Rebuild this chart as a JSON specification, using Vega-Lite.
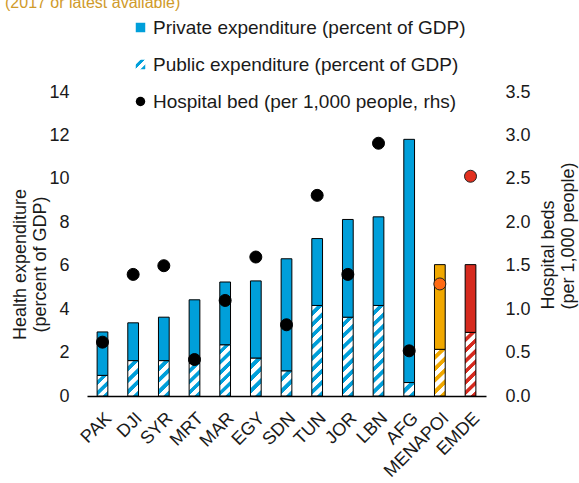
{
  "$schema": "https://vega.github.io/schema/vega-lite/v6.json",
  "width": 399,
  "height": 304,
  "autosize": "none",
  "padding": {"left": 87, "top": 92, "right": 93, "bottom": 87},
  "title": {"text": "(2017 or latest available)", "anchor": "start", "frame": "group", "fontSize": 16, "color": "#D09A2A", "fontWeight": "normal", "font": "Liberation Sans", "offset": 0, "dx": -82, "dy": 6, "baseline": "alphabetic"},
  "config": {
    "view": {"stroke": null},
    "font": "Liberation Sans",
    "axis": {"labelFont": "Liberation Sans", "titleFont": "Liberation Sans", "labelColor": "#1a1a1a", "titleColor": "#1a1a1a", "labelFontSize": 18, "titleFontSize": 18, "titleFontWeight": "normal", "grid": false}
  },
  "data": {"values": [
    {"country": "PAK", "public": 0.95, "private": 2.00, "beds": 0.62},
    {"country": "DJI", "public": 1.63, "private": 1.74, "beds": 1.40},
    {"country": "SYR", "public": 1.63, "private": 2.00, "beds": 1.50},
    {"country": "MRT", "public": 1.50, "private": 2.93, "beds": 0.42},
    {"country": "MAR", "public": 2.36, "private": 2.89, "beds": 1.10},
    {"country": "EGY", "public": 1.75, "private": 3.55, "beds": 1.60},
    {"country": "SDN", "public": 1.16, "private": 5.16, "beds": 0.82},
    {"country": "TUN", "public": 4.17, "private": 3.08, "beds": 2.31},
    {"country": "JOR", "public": 3.63, "private": 4.50, "beds": 1.40},
    {"country": "LBN", "public": 4.17, "private": 4.08, "beds": 2.91},
    {"country": "AFG", "public": 0.62, "private": 11.20, "beds": 0.52},
    {"country": "MENAPOI", "public": 2.15, "private": 3.90, "beds": 1.29},
    {"country": "EMDE", "public": 2.93, "private": 3.12, "beds": 2.53}
  ]},
  "layer": [
    {
      "transform": [{"fold": ["public", "private"], "as": ["type", "value"]}],
      "mark": {"type": "bar", "stroke": "#000", "strokeWidth": 1},
      "encoding": {
        "x": {"field": "country", "type": "nominal", "sort": null, "scale": {"paddingInner": 0.65, "paddingOuter": 0.33},
              "axis": {"title": null, "labelAngle": -45, "labelFontSize": 18, "ticks": false, "domainColor": "#000", "domainWidth": 1.5, "labelPadding": 13}},
        "y": {"field": "value", "type": "quantitative", "stack": "zero", "scale": {"domain": [0, 14]},
              "axis": {"values": [0, 2, 4, 6, 8, 10, 12, 14], "title": ["Health expenditure", "(percent of GDP)"], "domain": false, "ticks": false, "grid": false, "labelPadding": 18, "titleX": -58, "titleY": 172, "titleAngle": 270, "titleBaseline": "bottom", "titleAlign": "center", "titleLineHeight": 20}},
        "order": {"field": "type", "sort": "descending"},
        "fill": {
          "condition": [
            {"test": "datum.type==='private'&&datum.country==='MENAPOI'", "value": "#F0A800"},
            {"test": "datum.type==='private'&&datum.country==='EMDE'", "value": "#D62A1E"},
            {"test": "datum.type==='private'", "value": "#009FDA"},
            {"test": "datum.country==='PAK'", "value": {"gradient": "linear", "x1": 0, "y1": 0, "x2": 0.611, "y2": 1.199, "stops": [{"offset": 0, "color": "#fff"}, {"offset": 0.15, "color": "#fff"}, {"offset": 0.183, "color": "#009FDA"}, {"offset": 0.317, "color": "#009FDA"}, {"offset": 0.333, "color": "#fff"}, {"offset": 0.483, "color": "#fff"}, {"offset": 0.517, "color": "#009FDA"}, {"offset": 0.65, "color": "#009FDA"}, {"offset": 0.667, "color": "#fff"}, {"offset": 0.817, "color": "#fff"}, {"offset": 0.85, "color": "#009FDA"}, {"offset": 0.983, "color": "#009FDA"}, {"offset": 1, "color": "#fff"}]}},
            {"test": "datum.country==='SDN'", "value": {"gradient": "linear", "x1": 0, "y1": 0, "x2": 0.503, "y2": 1.207, "stops": [{"offset": 0, "color": "#fff"}, {"offset": 0.15, "color": "#fff"}, {"offset": 0.183, "color": "#009FDA"}, {"offset": 0.317, "color": "#009FDA"}, {"offset": 0.333, "color": "#fff"}, {"offset": 0.483, "color": "#fff"}, {"offset": 0.517, "color": "#009FDA"}, {"offset": 0.65, "color": "#009FDA"}, {"offset": 0.667, "color": "#fff"}, {"offset": 0.817, "color": "#fff"}, {"offset": 0.85, "color": "#009FDA"}, {"offset": 0.983, "color": "#009FDA"}, {"offset": 1, "color": "#fff"}]}},
            {"test": "datum.country==='DJI'||datum.country==='SYR'", "value": {"gradient": "linear", "x1": 0, "y1": 0, "x2": 0.354, "y2": 1.192, "stops": [{"offset": 0, "color": "#fff"}, {"offset": 0.1125, "color": "#fff"}, {"offset": 0.1375, "color": "#009FDA"}, {"offset": 0.2375, "color": "#009FDA"}, {"offset": 0.25, "color": "#fff"}, {"offset": 0.3625, "color": "#fff"}, {"offset": 0.3875, "color": "#009FDA"}, {"offset": 0.4875, "color": "#009FDA"}, {"offset": 0.5, "color": "#fff"}, {"offset": 0.6125, "color": "#fff"}, {"offset": 0.6375, "color": "#009FDA"}, {"offset": 0.7375, "color": "#009FDA"}, {"offset": 0.75, "color": "#fff"}, {"offset": 0.8625, "color": "#fff"}, {"offset": 0.8875, "color": "#009FDA"}, {"offset": 0.9875, "color": "#009FDA"}, {"offset": 1, "color": "#fff"}]}},
            {"test": "datum.country==='MRT'", "value": {"gradient": "linear", "x1": 0, "y1": 0, "x2": 0.386, "y2": 1.198, "stops": [{"offset": 0, "color": "#fff"}, {"offset": 0.1125, "color": "#fff"}, {"offset": 0.1375, "color": "#009FDA"}, {"offset": 0.2375, "color": "#009FDA"}, {"offset": 0.25, "color": "#fff"}, {"offset": 0.3625, "color": "#fff"}, {"offset": 0.3875, "color": "#009FDA"}, {"offset": 0.4875, "color": "#009FDA"}, {"offset": 0.5, "color": "#fff"}, {"offset": 0.6125, "color": "#fff"}, {"offset": 0.6375, "color": "#009FDA"}, {"offset": 0.7375, "color": "#009FDA"}, {"offset": 0.75, "color": "#fff"}, {"offset": 0.8625, "color": "#fff"}, {"offset": 0.8875, "color": "#009FDA"}, {"offset": 0.9875, "color": "#009FDA"}, {"offset": 1, "color": "#fff"}]}},
            {"test": "datum.country==='EGY'", "value": {"gradient": "linear", "x1": 0, "y1": 0, "x2": 0.328, "y2": 1.186, "stops": [{"offset": 0, "color": "#fff"}, {"offset": 0.1125, "color": "#fff"}, {"offset": 0.1375, "color": "#009FDA"}, {"offset": 0.2375, "color": "#009FDA"}, {"offset": 0.25, "color": "#fff"}, {"offset": 0.3625, "color": "#fff"}, {"offset": 0.3875, "color": "#009FDA"}, {"offset": 0.4875, "color": "#009FDA"}, {"offset": 0.5, "color": "#fff"}, {"offset": 0.6125, "color": "#fff"}, {"offset": 0.6375, "color": "#009FDA"}, {"offset": 0.7375, "color": "#009FDA"}, {"offset": 0.75, "color": "#fff"}, {"offset": 0.8625, "color": "#fff"}, {"offset": 0.8875, "color": "#009FDA"}, {"offset": 0.9875, "color": "#009FDA"}, {"offset": 1, "color": "#fff"}]}},
            {"test": "datum.country==='MAR'", "value": {"gradient": "linear", "x1": 0, "y1": 0, "x2": 0.237, "y2": 1.157, "stops": [{"offset": 0, "color": "#fff"}, {"offset": 0.075, "color": "#fff"}, {"offset": 0.092, "color": "#009FDA"}, {"offset": 0.158, "color": "#009FDA"}, {"offset": 0.167, "color": "#fff"}, {"offset": 0.242, "color": "#fff"}, {"offset": 0.258, "color": "#009FDA"}, {"offset": 0.325, "color": "#009FDA"}, {"offset": 0.333, "color": "#fff"}, {"offset": 0.408, "color": "#fff"}, {"offset": 0.425, "color": "#009FDA"}, {"offset": 0.492, "color": "#009FDA"}, {"offset": 0.5, "color": "#fff"}, {"offset": 0.575, "color": "#fff"}, {"offset": 0.592, "color": "#009FDA"}, {"offset": 0.658, "color": "#009FDA"}, {"offset": 0.667, "color": "#fff"}, {"offset": 0.742, "color": "#fff"}, {"offset": 0.758, "color": "#009FDA"}, {"offset": 0.825, "color": "#009FDA"}, {"offset": 0.833, "color": "#fff"}, {"offset": 0.908, "color": "#fff"}, {"offset": 0.925, "color": "#009FDA"}, {"offset": 0.992, "color": "#009FDA"}, {"offset": 1, "color": "#fff"}]}},
            {"test": "datum.country==='TUN'||datum.country==='LBN'", "value": {"gradient": "linear", "x1": 0, "y1": 0, "x2": 0.128, "y2": 1.101, "stops": [{"offset": 0, "color": "#fff"}, {"offset": 0.05, "color": "#fff"}, {"offset": 0.061, "color": "#009FDA"}, {"offset": 0.106, "color": "#009FDA"}, {"offset": 0.111, "color": "#fff"}, {"offset": 0.161, "color": "#fff"}, {"offset": 0.172, "color": "#009FDA"}, {"offset": 0.217, "color": "#009FDA"}, {"offset": 0.222, "color": "#fff"}, {"offset": 0.272, "color": "#fff"}, {"offset": 0.283, "color": "#009FDA"}, {"offset": 0.328, "color": "#009FDA"}, {"offset": 0.333, "color": "#fff"}, {"offset": 0.383, "color": "#fff"}, {"offset": 0.394, "color": "#009FDA"}, {"offset": 0.439, "color": "#009FDA"}, {"offset": 0.444, "color": "#fff"}, {"offset": 0.494, "color": "#fff"}, {"offset": 0.506, "color": "#009FDA"}, {"offset": 0.55, "color": "#009FDA"}, {"offset": 0.556, "color": "#fff"}, {"offset": 0.606, "color": "#fff"}, {"offset": 0.617, "color": "#009FDA"}, {"offset": 0.661, "color": "#009FDA"}, {"offset": 0.667, "color": "#fff"}, {"offset": 0.717, "color": "#fff"}, {"offset": 0.728, "color": "#009FDA"}, {"offset": 0.772, "color": "#009FDA"}, {"offset": 0.778, "color": "#fff"}, {"offset": 0.828, "color": "#fff"}, {"offset": 0.839, "color": "#009FDA"}, {"offset": 0.883, "color": "#009FDA"}, {"offset": 0.889, "color": "#fff"}, {"offset": 0.939, "color": "#fff"}, {"offset": 0.95, "color": "#009FDA"}, {"offset": 0.994, "color": "#009FDA"}, {"offset": 1, "color": "#fff"}]}},
            {"test": "datum.country==='JOR'", "value": {"gradient": "linear", "x1": 0, "y1": 0, "x2": 0.148, "y2": 1.114, "stops": [{"offset": 0, "color": "#fff"}, {"offset": 0.056, "color": "#fff"}, {"offset": 0.069, "color": "#009FDA"}, {"offset": 0.119, "color": "#009FDA"}, {"offset": 0.125, "color": "#fff"}, {"offset": 0.181, "color": "#fff"}, {"offset": 0.194, "color": "#009FDA"}, {"offset": 0.244, "color": "#009FDA"}, {"offset": 0.25, "color": "#fff"}, {"offset": 0.306, "color": "#fff"}, {"offset": 0.319, "color": "#009FDA"}, {"offset": 0.369, "color": "#009FDA"}, {"offset": 0.375, "color": "#fff"}, {"offset": 0.431, "color": "#fff"}, {"offset": 0.444, "color": "#009FDA"}, {"offset": 0.494, "color": "#009FDA"}, {"offset": 0.5, "color": "#fff"}, {"offset": 0.556, "color": "#fff"}, {"offset": 0.569, "color": "#009FDA"}, {"offset": 0.619, "color": "#009FDA"}, {"offset": 0.625, "color": "#fff"}, {"offset": 0.681, "color": "#fff"}, {"offset": 0.694, "color": "#009FDA"}, {"offset": 0.744, "color": "#009FDA"}, {"offset": 0.75, "color": "#fff"}, {"offset": 0.806, "color": "#fff"}, {"offset": 0.819, "color": "#009FDA"}, {"offset": 0.869, "color": "#009FDA"}, {"offset": 0.875, "color": "#fff"}, {"offset": 0.931, "color": "#fff"}, {"offset": 0.944, "color": "#009FDA"}, {"offset": 0.994, "color": "#009FDA"}, {"offset": 1, "color": "#fff"}]}},
            {"test": "datum.country==='AFG'", "value": {"gradient": "linear", "x1": 0, "y1": 0, "x2": 0.862, "y2": 1.108, "stops": [{"offset": 0, "color": "#fff"}, {"offset": 0.225, "color": "#fff"}, {"offset": 0.275, "color": "#009FDA"}, {"offset": 0.475, "color": "#009FDA"}, {"offset": 0.5, "color": "#fff"}, {"offset": 0.725, "color": "#fff"}, {"offset": 0.775, "color": "#009FDA"}, {"offset": 0.975, "color": "#009FDA"}, {"offset": 1, "color": "#fff"}]}},
            {"test": "datum.country==='MENAPOI'", "value": {"gradient": "linear", "x1": 0, "y1": 0, "x2": 0.262, "y2": 1.166, "stops": [{"offset": 0, "color": "#fff"}, {"offset": 0.09, "color": "#fff"}, {"offset": 0.11, "color": "#F0A800"}, {"offset": 0.19, "color": "#F0A800"}, {"offset": 0.2, "color": "#fff"}, {"offset": 0.29, "color": "#fff"}, {"offset": 0.31, "color": "#F0A800"}, {"offset": 0.39, "color": "#F0A800"}, {"offset": 0.4, "color": "#fff"}, {"offset": 0.49, "color": "#fff"}, {"offset": 0.51, "color": "#F0A800"}, {"offset": 0.59, "color": "#F0A800"}, {"offset": 0.6, "color": "#fff"}, {"offset": 0.69, "color": "#fff"}, {"offset": 0.71, "color": "#F0A800"}, {"offset": 0.79, "color": "#F0A800"}, {"offset": 0.8, "color": "#fff"}, {"offset": 0.89, "color": "#fff"}, {"offset": 0.91, "color": "#F0A800"}, {"offset": 0.99, "color": "#F0A800"}, {"offset": 1, "color": "#fff"}]}},
            {"test": "datum.country==='EMDE'", "value": {"gradient": "linear", "x1": 0, "y1": 0, "x2": 0.187, "y2": 1.134, "stops": [{"offset": 0, "color": "#fff"}, {"offset": 0.064, "color": "#fff"}, {"offset": 0.079, "color": "#D62A1E"}, {"offset": 0.136, "color": "#D62A1E"}, {"offset": 0.143, "color": "#fff"}, {"offset": 0.207, "color": "#fff"}, {"offset": 0.221, "color": "#D62A1E"}, {"offset": 0.279, "color": "#D62A1E"}, {"offset": 0.286, "color": "#fff"}, {"offset": 0.35, "color": "#fff"}, {"offset": 0.364, "color": "#D62A1E"}, {"offset": 0.421, "color": "#D62A1E"}, {"offset": 0.429, "color": "#fff"}, {"offset": 0.493, "color": "#fff"}, {"offset": 0.507, "color": "#D62A1E"}, {"offset": 0.564, "color": "#D62A1E"}, {"offset": 0.571, "color": "#fff"}, {"offset": 0.636, "color": "#fff"}, {"offset": 0.65, "color": "#D62A1E"}, {"offset": 0.707, "color": "#D62A1E"}, {"offset": 0.714, "color": "#fff"}, {"offset": 0.779, "color": "#fff"}, {"offset": 0.793, "color": "#D62A1E"}, {"offset": 0.85, "color": "#D62A1E"}, {"offset": 0.857, "color": "#fff"}, {"offset": 0.921, "color": "#fff"}, {"offset": 0.936, "color": "#D62A1E"}, {"offset": 0.993, "color": "#D62A1E"}, {"offset": 1, "color": "#fff"}]}}
          ],
          "value": "#009FDA"
        }
      }
    },
    {
      "layer": [
        {
          "transform": [{"filter": "datum.country !== 'MENAPOI' && datum.country !== 'EMDE'"}],
          "mark": {"type": "point", "filled": true, "size": 144, "opacity": 1, "stroke": "#000", "strokeWidth": 1},
          "encoding": {
            "x": {"field": "country", "type": "nominal", "sort": null},
            "y": {"field": "beds", "type": "quantitative", "scale": {"domain": [0, 3.5]},
                  "axis": {"orient": "right", "values": [0, 0.5, 1, 1.5, 2, 2.5, 3, 3.5], "format": ".1f", "title": ["Hospital beds", "(per 1,000 people)"], "domain": false, "ticks": false, "grid": false, "labelPadding": 19, "titleX": 53, "titleY": 217, "titleAngle": 270, "titleBaseline": "top", "titleAlign": "left", "titleLineHeight": 20}},
            "fill": {"datum": "Hospital bed (per 1,000 people, rhs)", "type": "nominal",
                     "scale": {"domain": ["Private expenditure (percent of GDP)", "Public expenditure (percent of GDP)", "Hospital bed (per 1,000 people, rhs)"],
                               "range": ["#009FDA", {"expr": "{gradient: 'linear', x1: 0, y1: 0, x2: 1, y2: 1, stops: [{offset: 0, color: '#fff'}, {offset: 0.225, color: '#fff'}, {offset: 0.275, color: '#009FDA'}, {offset: 0.475, color: '#009FDA'}, {offset: 0.5, color: '#fff'}, {offset: 0.725, color: '#fff'}, {offset: 0.775, color: '#009FDA'}, {offset: 0.975, color: '#009FDA'}, {offset: 1, color: '#fff'}]}"}, "#000"]},
                     "legend": {"title": null, "orient": "none", "legendX": 44, "legendY": -74, "direction": "vertical", "labelFontSize": 19, "labelColor": "#1a1a1a", "labelFont": "Liberation Sans", "symbolSize": 90, "rowPadding": 17, "labelOffset": 3, "labelLimit": 0, "symbolOpacity": 1, "symbolStrokeColor": "#000", "symbolStrokeWidth": 1}},
            "shape": {"datum": "Hospital bed (per 1,000 people, rhs)", "type": "nominal",
                      "scale": {"domain": ["Private expenditure (percent of GDP)", "Public expenditure (percent of GDP)", "Hospital bed (per 1,000 people, rhs)"], "range": ["square", "square", "circle"]},
                      "legend": {"title": null, "orient": "none", "legendX": 44, "legendY": -74, "direction": "vertical", "labelFontSize": 19, "labelColor": "#1a1a1a", "labelFont": "Liberation Sans", "symbolSize": 90, "rowPadding": 17, "labelOffset": 3, "labelLimit": 0, "symbolOpacity": 1, "symbolStrokeColor": "#000", "symbolStrokeWidth": 1}}
          }
        },
        {
          "transform": [{"filter": "datum.country === 'MENAPOI' || datum.country === 'EMDE'"}],
          "mark": {"type": "point", "filled": true, "size": 144, "opacity": 1, "stroke": "#222", "strokeWidth": 1},
          "encoding": {
            "x": {"field": "country", "type": "nominal", "sort": null},
            "y": {"field": "beds", "type": "quantitative", "scale": {"domain": [0, 3.5]},
                  "axis": {"orient": "right", "values": [0, 0.5, 1, 1.5, 2, 2.5, 3, 3.5], "format": ".1f", "title": ["Hospital beds", "(per 1,000 people)"], "domain": false, "ticks": false, "grid": false, "labelPadding": 19, "titleX": 53, "titleY": 217, "titleAngle": 270, "titleBaseline": "top", "titleAlign": "left", "titleLineHeight": 20}},
            "fill": {"condition": {"test": "datum.country==='MENAPOI'", "value": "#FF6A13"}, "value": "#E2301F"}
          }
        }
      ]
    }
  ],
  "resolve": {"scale": {"y": "independent"}}
}
